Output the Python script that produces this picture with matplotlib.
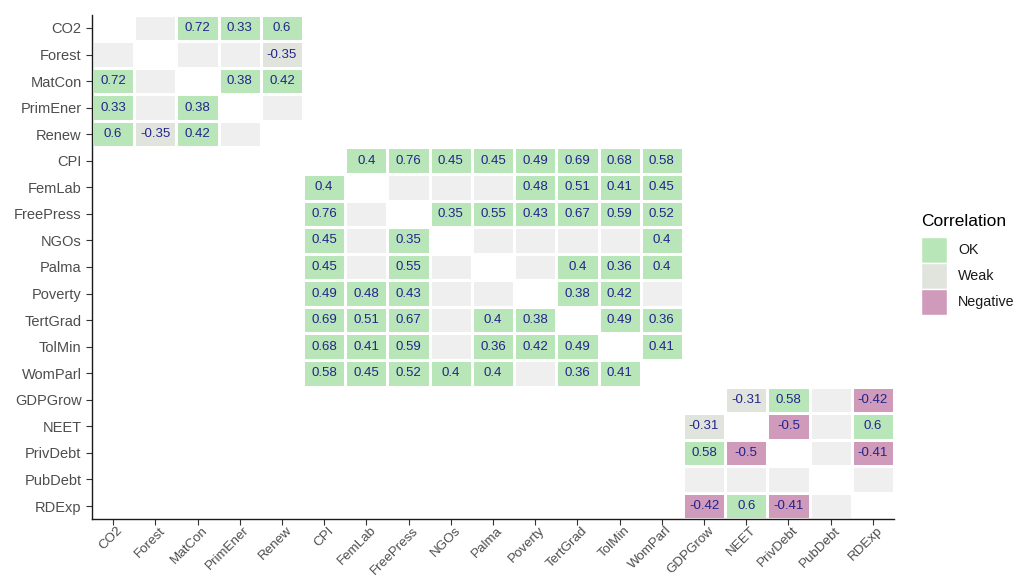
import numpy as np
import matplotlib
matplotlib.use("Agg")
import matplotlib.pyplot as plt
from matplotlib.colors import ListedColormap
from matplotlib.patches import Rectangle
import matplotlib.transforms as mtransforms

plt.rcParams['font.family'] = ['Liberation Sans', 'DejaVu Sans']

variables = ["CO2", "Forest", "MatCon", "PrimEner", "Renew",
             "CPI", "FemLab", "FreePress", "NGOs", "Palma", "Poverty",
             "TertGrad", "TolMin", "WomParl",
             "GDPGrow", "NEET", "PrivDebt", "PubDebt", "RDExp"]

N = np.nan  # |r| below display threshold (value not shown)
D = None    # diagonal

env_vars = ["CO2", "Forest", "MatCon", "PrimEner", "Renew"]
env_corr = [
    [D,    N,     0.72, 0.33, 0.6],
    [N,    D,     N,    N,    -0.35],
    [0.72, N,     D,    0.38, 0.42],
    [0.33, N,     0.38, D,    N],
    [0.6,  -0.35, 0.42, N,    D],
]

soc_vars = ["CPI", "FemLab", "FreePress", "NGOs", "Palma", "Poverty",
            "TertGrad", "TolMin", "WomParl"]
soc_corr = [
    [D,    0.4,  0.76, 0.45, 0.45, 0.49, 0.69, 0.68, 0.58],
    [0.4,  D,    N,    N,    N,    0.48, 0.51, 0.41, 0.45],
    [0.76, N,    D,    0.35, 0.55, 0.43, 0.67, 0.59, 0.52],
    [0.45, N,    0.35, D,    N,    N,    N,    N,    0.4],
    [0.45, N,    0.55, N,    D,    N,    0.4,  0.36, 0.4],
    [0.49, 0.48, 0.43, N,    N,    D,    0.38, 0.42, N],
    [0.69, 0.51, 0.67, N,    0.4,  0.38, D,    0.49, 0.36],
    [0.68, 0.41, 0.59, N,    0.36, 0.42, 0.49, D,    0.41],
    [0.58, 0.45, 0.52, 0.4,  0.4,  N,    0.36, 0.41, D],
]

eco_vars = ["GDPGrow", "NEET", "PrivDebt", "PubDebt", "RDExp"]
eco_corr = [
    [D,     -0.31, 0.58,  N, -0.42],
    [-0.31, D,     -0.5,  N, 0.6],
    [0.58,  -0.5,  D,     N, -0.41],
    [N,     N,     N,     D, N],
    [-0.42, 0.6,   -0.41, N, D],
]

categories = ["OK", "Weak", "Negative"]
cat_colors = {"NA": "#efefef", "OK": "#b8e6b8", "Weak": "#e0e4dd", "Negative": "#d09aba"}
text_color = "#23238c"

n = len(variables)
idx = {v: i for i, v in enumerate(variables)}
codes = np.full((n, n), np.nan)
labels = {}

def category(r):
    if np.isnan(r):
        return "NA"
    if r >= 0:
        return "OK"
    if r > -0.4:
        return "Weak"
    return "Negative"

code_of = {"NA": 0, "OK": 1, "Weak": 2, "Negative": 3}
for vars_, mat in [(env_vars, env_corr), (soc_vars, soc_corr), (eco_vars, eco_corr)]:
    for i, vi in enumerate(vars_):
        for j, vj in enumerate(vars_):
            r = mat[i][j]
            if r is None:
                continue
            r = float(r)
            codes[idx[vi], idx[vj]] = code_of[category(r)]
            if not np.isnan(r):
                labels[(idx[vi], idx[vj])] = r

W, H = 1016, 581
fig = plt.figure(figsize=(W / 100, H / 100), dpi=100)
ax = fig.add_axes([92/W, 1 - 519.3/H, (894 - 92)/W, (519.3 - 14.7)/H])

cmap = ListedColormap([cat_colors["NA"], cat_colors["OK"], cat_colors["Weak"], cat_colors["Negative"]])
edges = np.arange(n + 1) - 0.5
ax.pcolormesh(edges, edges, np.ma.masked_invalid(codes), cmap=cmap, vmin=-0.5, vmax=3.5,
              edgecolors="white", linewidth=0.8)

for (i, j), r in labels.items():
    ax.text(j, i, f"{r:g}", ha="center", va="center", color=text_color, fontsize=9.5)

ax.set_xlim(-0.5, n - 0.5)
ax.set_ylim(n - 0.5, -0.5)
ax.set_xticks(range(n))
ax.set_yticks(range(n))
ax.tick_params(axis="both", colors="#333333", labelcolor="#4d4d4d", labelsize=10.5, length=4, width=0.8)
ax.tick_params(axis="x", pad=2, labelsize=9.6)
ax.set_xticklabels(variables, rotation=45, ha="right", va="center", rotation_mode="anchor")
ax.set_yticklabels(variables)
offset = mtransforms.ScaledTranslation(8/100, -1/100, fig.dpi_scale_trans)
for lab in ax.xaxis.get_majorticklabels():
    lab.set_transform(lab.get_transform() + offset)
for s in ["top", "right"]:
    ax.spines[s].set_visible(False)
for s in ["left", "bottom"]:
    ax.spines[s].set_color("#1a1a1a")
    ax.spines[s].set_linewidth(1.0)

# Legend (drawn in figure pixel coordinates)
def fx(px):
    return px / W

def fy(py):
    return 1 - py / H

fig.text(fx(921), fy(221), "Correlation", ha="left", va="center", fontsize=12.5, color="#000000")
key_top, key_h, key_w = 237, 26, 26
for k, c in enumerate(categories):
    top = key_top + k * key_h
    fig.add_artist(Rectangle((fx(921), fy(top + key_h)), fx(key_w), key_h / H,
                             transform=fig.transFigure, facecolor=cat_colors[c],
                             edgecolor="white", linewidth=1.0))
    fig.text(fx(958), fy(top + key_h / 2), c, ha="left", va="center", fontsize=10.3, color="#1a1a1a")

fig.savefig("out.png", dpi=100)
